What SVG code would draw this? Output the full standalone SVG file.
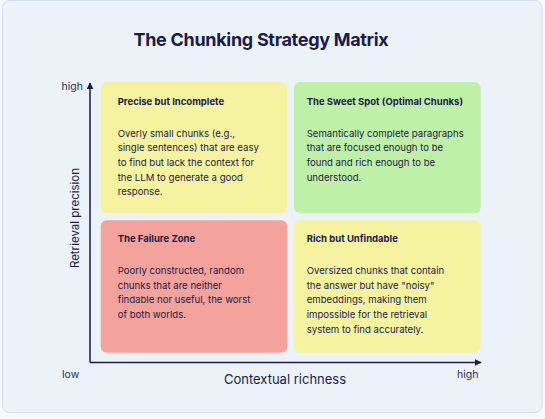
<svg xmlns="http://www.w3.org/2000/svg" width="545" height="419" viewBox="0 0 545 419">
<defs>
<style>
text{font-family:Inter,"Noto Sans","Liberation Sans",sans-serif;fill:#1c1a4a}
.h{font-weight:700;font-size:9.5px}
.b{font-size:9.6px}
.ax{font-size:10.5px;fill:#2b2a55}
.al{font-size:13px}
.q{stroke:none}
</style>
<marker id="ah" viewBox="0 0 10 10" refX="9" refY="5" markerWidth="7" markerHeight="7" markerUnits="userSpaceOnUse" orient="auto">
<path d="M0,0 L10,5 L0,10 Z" fill="#1c1a4a"/>
</marker>
</defs>
<rect x="0" y="0" width="545" height="419" fill="#f7fafd"/>
<rect x="2.5" y="0.5" width="539.5" height="412" rx="7" fill="#ecf3f8" stroke="#d3dfea" stroke-width="1"/>
<text x="261" y="45.5" text-anchor="middle" style="font-size:18px;font-weight:700;letter-spacing:-0.3px">The Chunking Strategy Matrix</text>

<g id="connectors">
<line x1="90" y1="362.5" x2="90" y2="83" stroke="#1c1a4a" stroke-width="1.5" marker-end="url(#ah)"/>
<line x1="90" y1="362.5" x2="481" y2="362.5" stroke="#1c1a4a" stroke-width="1.5" marker-end="url(#ah)"/>
</g>

<g id="axis-labels">
<text class="ax" x="83" y="89.5" text-anchor="end">high</text>
<text class="ax" x="62" y="377.5">low</text>
<text class="ax" x="457" y="378">high</text>
<text class="al" x="285" y="383.5" text-anchor="middle">Contextual richness</text>
<text transform="translate(79,218) rotate(-90)" text-anchor="middle" style="font-size:11.5px">Retrieval precision</text>
</g>

<g id="q-precise">
<rect class="q" x="100.7" y="82" width="186.6" height="131.3" rx="6" fill="#f6f3a0"/>
<text class="h" x="117.7" y="105.3">Precise but Incomplete</text>
<text class="b" x="117.7" y="136.7">Overly small chunks (e.g.,</text>
<text class="b" x="117.7" y="151.3">single sentences) that are easy</text>
<text class="b" x="117.7" y="166">to find but lack the context for</text>
<text class="b" x="117.7" y="180.7">the LLM to generate a good</text>
<text class="b" x="117.7" y="195.3">response.</text>
</g>

<g id="q-sweet">
<rect class="q" x="294" y="82" width="186.6" height="131.3" rx="6" fill="#bff0a8"/>
<text class="h" x="306.7" y="105.3">The Sweet Spot (Optimal Chunks)</text>
<text class="b" x="306.7" y="136.7">Semantically complete paragraphs</text>
<text class="b" x="306.7" y="151.3">that are focused enough to be</text>
<text class="b" x="306.7" y="166">found and rich enough to be</text>
<text class="b" x="306.7" y="180.7">understood.</text>
</g>

<g id="q-failure">
<rect class="q" x="100.7" y="220.3" width="186.6" height="132.4" rx="6" fill="#f3a29c"/>
<text class="h" x="117.7" y="242.3">The Failure Zone</text>
<text class="b" x="117.7" y="274">Poorly constructed, random</text>
<text class="b" x="117.7" y="288.7">chunks that are neither</text>
<text class="b" x="117.7" y="303.3">findable nor useful, the worst</text>
<text class="b" x="117.7" y="318">of both worlds.</text>
</g>

<g id="q-rich">
<rect class="q" x="294" y="220.3" width="186.6" height="132.4" rx="6" fill="#f6f3a0"/>
<text class="h" x="306.7" y="242.3">Rich but Unfindable</text>
<text class="b" x="306.7" y="274">Oversized chunks that contain</text>
<text class="b" x="306.7" y="288.7">the answer but have "noisy"</text>
<text class="b" x="306.7" y="303.3">embeddings, making them</text>
<text class="b" x="306.7" y="318">impossible for the retrieval</text>
<text class="b" x="306.7" y="332.7">system to find accurately.</text>
</g>
</svg>
